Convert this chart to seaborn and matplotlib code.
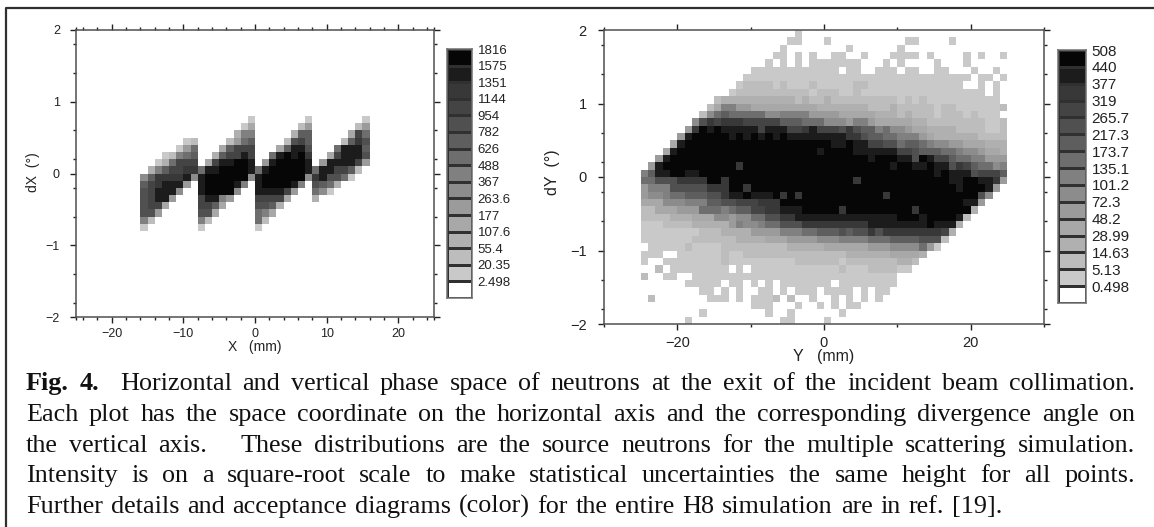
import matplotlib
matplotlib.use('Agg')
import matplotlib.pyplot as plt
import numpy as np
import seaborn as sns
from matplotlib.colors import ListedColormap
from matplotlib.lines import Line2D

# Intensity band of each cell, one hex digit per cell (0 = white, e = black)
# Left plot: rows from dX 0.8 down to -0.8, columns from X -16 to 16 mm
x_rows = [
    "00000000 00000001 00000001 00000001",
    "00000000 00000014 00000025 00000025",
    "00000000 00000377 00000399 000004b8",
    "00000012 00002589 00002ab9 00002 9ca",
    "00000158 00049bbb 00049dda 0008ddd9",
    "00012789 0039bbdb 008dedec 004bddda",
    "00138bbb 04bddeed 05deeeed 05ddddb5",
    "0379bbcc 8ddeeeed 8deeeeed 8ddbb920",
    "69ccccd6 deeeeee6 deeeeee6 cdaa8100",
    "9bcddd50 deeeed70 deeeed70 a9830000",
    "abddd600 deeee600 ddddb500 86100000",
    "abdd5000 bdd75000 bbbb4000 30000000",
    "abb40000 bb940000 aa930000 00000000",
    "aa500000 aa400000 87400000 00000000",
    "72000000 72000000 82000000 00000000",
    "10000000 10000000 10000000 00000000",
]

# Right plot: rows from dY 2 down to -2, columns from Y -25 to 25 mm
y_rows = [
    "0000000000 0000000000 0100000000 0000000000 0000000000",
    "0000000000 0000000000 1100010000 0000001100 0010000000",
    "0000000000 0000000001 0000000010 0000010000 0000000000",
    "0000000000 0000000011 0101001100 1000111101 0000101001",
    "0000000000 0000000101 0101111111 0001010000 1000100000",
    "0000000000 0000011111 1111111011 0011101100 1100010010",
    "0000000000 0000111111 1111111111 1111111111 1111101101",
    "0000000000 0001222212 1112111112 2111111111 1111001010",
    "0000000000 0012222222 2221222112 1111111111 1111111010",
    "0000000000 2333333333 3232232222 2222212121 1111111110",
    "0000000002 4775544444 4444333333 3222322222 1221111112",
    "0000000026 8988888667 7775555444 4433323222 1222121110",
    "00000006ac bcccbbbbb9 9988866657 7544444332 2222222112",
    "0000005ced edddddbddd bbcdbbbaca 9978665443 3332222112",
    "000005deee eedededede ddddddddcc a998877754 3333332222",
    "00004deeee eeeeeeeeee eeeeeedded dbbaa89987 6655444333",
    "0004deeeee eeeeeeeeee eeeedeeeed dddddbba99 9887665443",
    "005deeeeee eeeeeeeeee eeeeeeeeee edeeeddaed bb98877555",
    "05deeeeeee eeeceeeeee eeeeeeeeee eeeedeedde ddacb98867",
    "79ddeeddee eeeeeeeeee eeeeeeeeee eeeeeeeeee dedddabbb9",
    "88aaacccce eceeeeeeee eeeeeeeeec eeeeeeeeee eeddeeddc5",
    "5777aaaaac cceeceeeee eeeeeeeeee eeeeeeeeee eeedeeed50",
    "566788999a acddedddec eceeeeeeee eeeceeeeee eeeeeea600",
    "4446667779 9aabbbccce eeeeeeeeee eeeeeeeeee eeeedd5000",
    "2244455588 87899bbccd ddeeeeecee eeeeeeecee eeeee30000",
    "2222333444 6656688aac cddddddddd dddddeeede eeed200000",
    "1112222333 335766788a aacccccccc cdddddddde ddd3000000",
    "1111111122 2333355557 7788999a9a acaccccccc cb30000000",
    "1111111222 2223333444 5555666777 78889999aa a200000000",
    "0111112111 1222222222 3333344444 4555666685 1000000000",
    "1110011111 1211222222 2222222233 3333444430 0000000000",
    "1001111111 1211111111 1222222122 2222233200 0000000000",
    "0020111111 1101011111 1111111211 1222211000 0000000000",
    "2001100111 1111111111 1111111111 1111100000 0000000000",
    "0000001111 1011010101 1111110111 1111100000 0000000000",
    "0000000011 0101001101 0111011110 1011000000 0000000000",
    "0200000001 1101011120 2001001010 1010000000 0000000000",
    "0000000000 0000011100 0100101011 0000000000 0000000000",
    "0000000010 0000000100 1000000100 0000000000 0000000000",
    "0000001000 0000000001 1000010000 0000000000 0000000000",
]

x_levels = ["1816", "1575", "1351", "1144", "954", "782", "626", "488",
            "367", "263.6", "177", "107.6", "55.4", "20.35", "2.498"]
y_levels = ["508", "440", "377", "319", "265.7", "217.3", "173.7", "135.1",
            "101.2", "72.3", "48.2", "28.99", "14.63", "5.13", "0.498"]
band_colors = ["#ffffff", "#c9c9c9", "#bdbdbd", "#b0b0b0", "#a8a8a8", "#9b9b9b",
               "#8c8c8c", "#808080", "#6e6e6e", "#5e5e5e", "#505050", "#444444",
               "#383838", "#1c1c1c", "#060606"]

caption = [
    "Fig. 4.  Horizontal and vertical phase space of neutrons at the exit of the incident beam collimation.",
    "Each plot has the space coordinate on the horizontal axis and the corresponding divergence angle on",
    "the vertical axis.   These distributions are the source neutrons for the multiple scattering simulation.",
    "Intensity is on a square-root scale to make statistical uncertainties the same height for all points.",
    "Further details and acceptance diagrams (color) for the entire H8 simulation are in ref. [19].",
]
caption_ends = [1135, 1135, 1135, 1135, 1002]
caption_base = [390, 421, 452, 482, 513]

sns.set_style('white')
plt.rcParams['font.family'] = ['Liberation Sans', 'DejaVu Sans']
W, H = 1154, 527
fig = plt.figure(figsize=(W / 100, H / 100), dpi=100)
cmap = ListedColormap(band_colors)
GREY = '#505050'


def to_grid(rows, ncol):
    out = []
    for r in rows:
        r = r.replace(' ', '')
        out.append([int(c, 16) for c in r.ljust(ncol, '0')[:ncol]])
    return np.array(out)


def px_axes(left, top, right, bottom):
    return fig.add_axes([left / W, 1 - bottom / H, (right - left) / W, (bottom - top) / H])


def phase_plot(box, rows, ncol, x0, y_top, xlim, major, minor, xlabel_text, ylabel_text,
               fs, xlab_pos, ylab_pos, tick_pad):
    ax = px_axes(*box)
    sns.heatmap(to_grid(rows, ncol), ax=ax, cmap=cmap, vmin=-0.5, vmax=14.5, cbar=False,
                xticklabels=False, yticklabels=False)
    ax.set_xlim(xlim[0] - x0, xlim[1] - x0)
    ax.set_ylim((y_top + 2) * 10, (y_top - 2) * 10)
    ax.set_xticks([m - x0 for m in major])
    ax.set_xticklabels([str(m).replace('-', '\u2212') for m in major], fontsize=fs)
    ax.set_xticks([m - x0 for m in minor], minor=True)
    y_major = [2, 1, 0, -1, -2]
    ax.set_yticks([(y_top - v) * 10 for v in y_major])
    ax.set_yticklabels([str(v).replace('-', '\u2212') for v in y_major], fontsize=fs)
    ax.set_yticks([(y_top - v / 5) * 10 for v in range(-9, 10, 2)], minor=True)
    ax.tick_params(which='major', length=4.6, width=1, color='#222222', top=True, right=True,
                   bottom=True, left=True, labelrotation=0)
    ax.tick_params(axis='x', which='major', pad=tick_pad)
    ax.tick_params(axis='y', which='major', pad=tick_pad + 4)
    ax.tick_params(which='minor', length=2.3, width=1, color='#222222', top=True, right=True,
                   bottom=True, left=True)
    for s in ax.spines.values():
        s.set_visible(True)
        s.set_color(GREY)
        s.set_linewidth(1.1)
    fig.text(xlab_pos[0] / W, 1 - xlab_pos[1] / H, xlabel_text, fontsize=fs + 1,
             ha='center', va='center', color='#222222')
    fig.text(ylab_pos[0] / W, 1 - ylab_pos[1] / H, ylabel_text, fontsize=fs + 1,
             ha='center', va='center', rotation=90, color='#222222')
    for t in ax.get_xticklabels() + ax.get_yticklabels():
        t.set_color('#222222')
    return ax


def band_bar(box, labels, fs):
    ax = px_axes(*box)
    vals = np.arange(14, -1, -1).reshape(-1, 1)
    sns.heatmap(vals, ax=ax, cmap=cmap, vmin=-0.5, vmax=14.5, cbar=False, linewidths=1,
                linecolor='#303030', xticklabels=False, yticklabels=False)
    ax.set_yticks(np.arange(15))
    ax.set_yticklabels(labels, fontsize=fs, color='#222222')
    ax.yaxis.tick_right()
    ax.tick_params(axis='y', length=0, pad=4, labelrotation=0)
    for s in ax.spines.values():
        s.set_visible(True)
        s.set_color('#707070')
        s.set_linewidth(1.1)


phase_plot((76, 30, 434, 317), x_rows, 32, -16, 0.8, (-25, 25),
           [-20, -10, 0, 10, 20], [-25, 25] + [m for m in range(-24, 25, 2) if m % 10],
           'X   (mm)', 'dX  (\u00b0)', 9, (255, 347), (33, 172), 3)
phase_plot((604, 30, 1044, 324), y_rows, 50, -25, 2, (-30, 30),
           [-20, 0, 20], [-30, -10, 10, 30],
           'Y   (mm)', 'dY  (\u00b0)', 10.5, (824, 357), (553, 172), 4)
band_bar((447, 49, 472, 298), x_levels, 9.5)
band_bar((1058, 50, 1086, 303), y_levels, 11)

# Caption, set justified word by word like the printed page
renderer = fig.canvas.get_renderer()
for n, line in enumerate(caption):
    tokens = line.split(' ')
    words = []
    for k, tok in enumerate(tokens):
        if tok:
            bold = n == 0 and k < 2
            words.append(fig.text(26 / W, 1 - caption_base[n] / H, tok, family='Liberation Serif',
                                  fontsize=18.8, color='#111111', va='baseline',
                                  fontweight='bold' if bold else 'normal'))
    widths = [t.get_window_extent(renderer).width for t in words]
    gaps = len(tokens) - 1
    gap = (caption_ends[n] - 26 - sum(widths)) / gaps
    pos = 26.0
    i = 0
    for tok in tokens:
        if tok:
            words[i].set_x(pos / W)
            pos += widths[i] + gap
            i += 1
        else:
            pos += gap

# Frame of the page box, cut off on the right and at the bottom
fig.add_artist(Line2D([6 / W, 6 / W, 1], [0, 1 - 8 / H, 1 - 8 / H], color='#303030', lw=1.6))

fig.savefig('out.png', dpi=100)
